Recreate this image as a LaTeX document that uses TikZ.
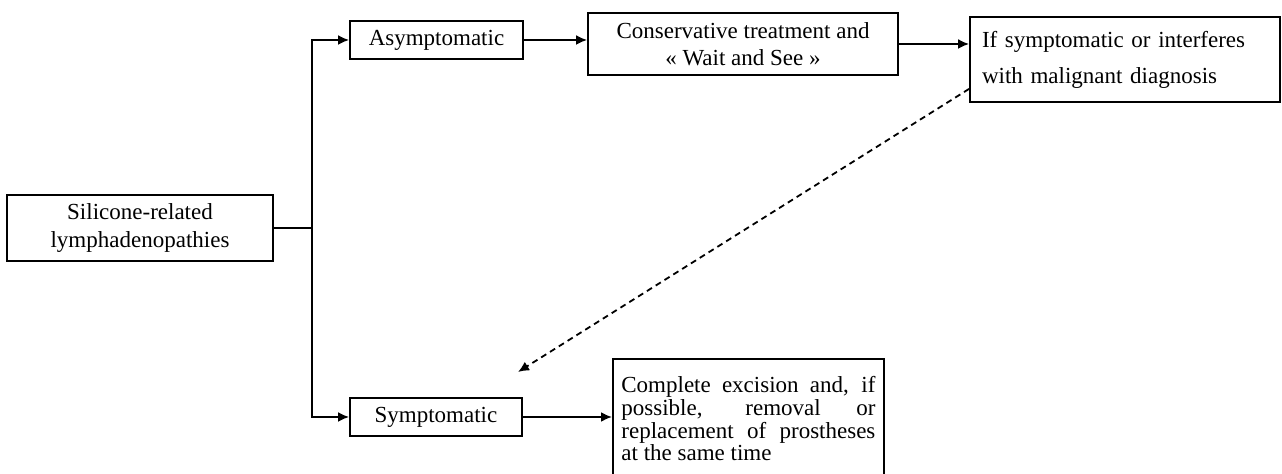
\documentclass[tikz,border=0pt]{standalone}
\usepackage{fontspec}
\setmainfont{Liberation Serif}
\usetikzlibrary{arrows.meta,calc}
\newcommand{\nohyph}{\hyphenpenalty=10000\exhyphenpenalty=10000\relax}
\begin{document}
\begin{tikzpicture}[x=0.5pt,y=-0.5pt,
  box/.style={draw,line width=0.9pt,inner sep=0pt,align=center,font=\fontsize{11.5}{14}\selectfont},
  conn/.style={line width=1pt},
  arr/.style={conn,-{Latex[length=5.5pt,width=5pt]}},
  dasharr/.style={line width=0.9pt,dash pattern=on 3pt off 2.2pt,-{Latex[length=5.5pt,width=5pt]}}]
\useasboundingbox (0,0) rectangle (1282,474);
\node[box,minimum width=133pt,minimum height=33pt] (sil) at (140,228) {Silicone-related\\lymphadenopathies};
\node[box,minimum width=86.5pt,minimum height=19pt] (asym) at (436.5,40) {Asymptomatic};
\node[box,minimum width=86pt,minimum height=19pt] (symp) at (436,417) {Symptomatic};
\node[box,minimum width=155pt,minimum height=31pt,font=\fontsize{11.5}{13.5}\selectfont] (cons) at (743,44) {Conservative treatment and\\«~Wait and See~»};
\node[box,minimum width=155pt,minimum height=42.5pt,text width=143pt,inner xsep=6pt,align=left,font=\fontsize{11.5}{18}\selectfont] (ifbox) at (1125,59.5) {If symptomatic or interferes\\with malignant diagnosis};
\node[box,anchor=north west,minimum width=135.5pt,minimum height=60pt,text width=127pt,inner xsep=4.25pt,align=justify,font=\fontsize{11.5}{11.3}\selectfont\nohyph] (comp) at (612,358) {Complete excision and, if\linebreak possible, removal or\linebreak replacement of prostheses\linebreak at the same time};
\coordinate (jx) at (312,228);
\coordinate (dashend) at (518,372);
\draw[line width=1.4pt] (sil.east) -- (jx);
\draw[arr] (jx) |- (asym.west);
\draw[arr] (jx) |- (symp.west);
\draw[arr] (asym.east) -- (asym.east -| cons.west);
\draw[arr] (cons.east) -- (cons.east -| ifbox.west);
\draw[arr] (symp.east) -- (symp.east -| comp.west);
\draw[dasharr] ($(ifbox.south west)+(0,-14)$) -- (dashend);
\end{tikzpicture}
\end{document}
